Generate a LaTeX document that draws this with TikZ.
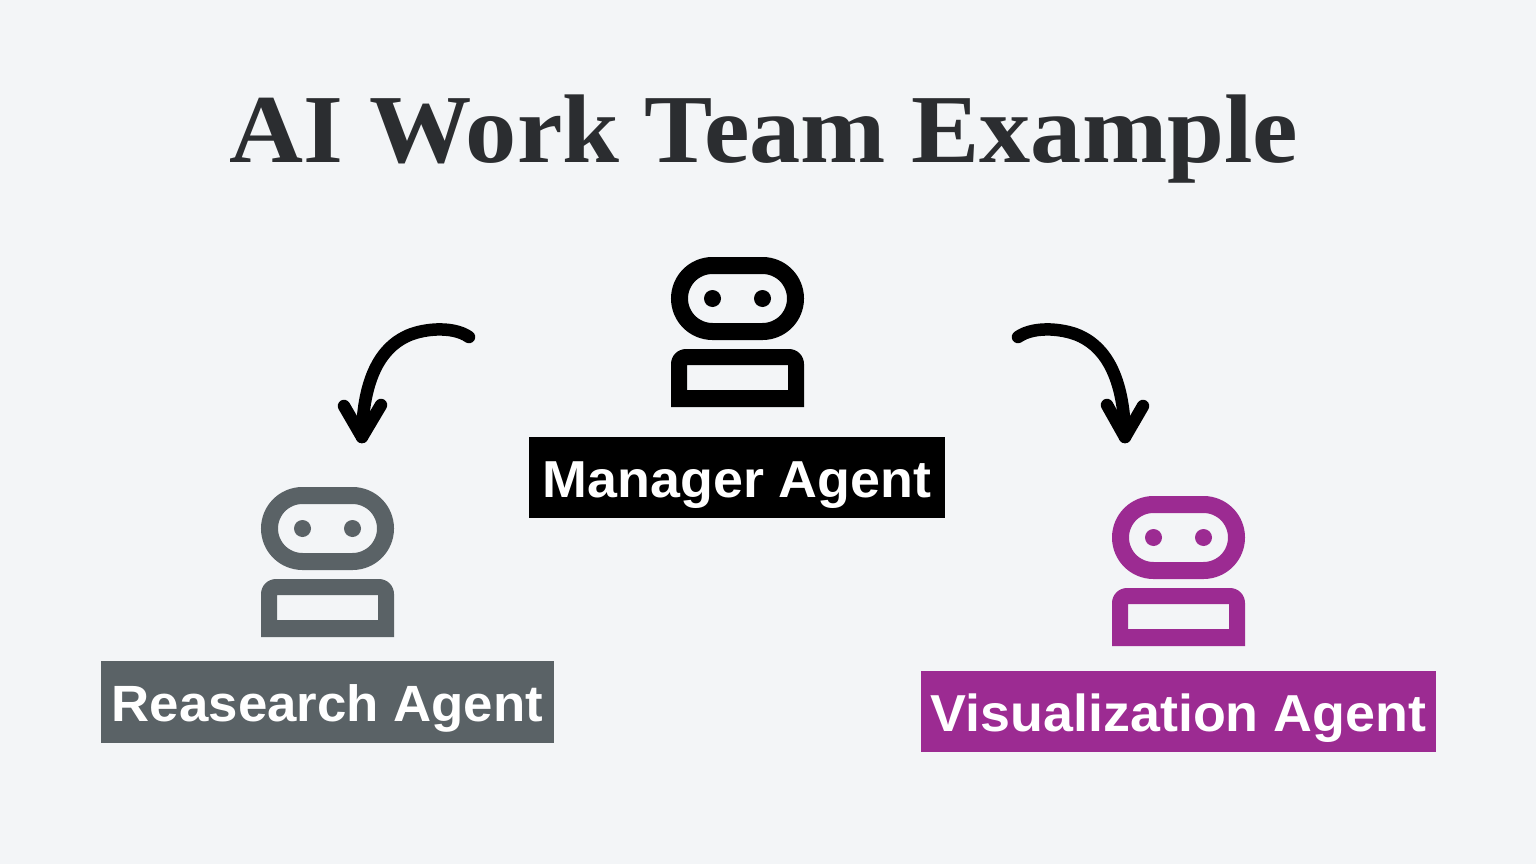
\documentclass[tikz,border=0pt]{standalone}
\usepackage{fontspec}
\newfontfamily\titlefont{Liberation Serif}[UprightFont=* Bold,BoldFont=* Bold,FakeStretch=1.05]
\newfontfamily\labelfont{Liberation Sans}[UprightFont=* Bold,BoldFont=* Bold,FakeStretch=1.035]
\definecolor{bgc}{HTML}{F3F5F7}
\definecolor{titlec}{HTML}{2B2D30}
\definecolor{greyc}{HTML}{5A6266}
\definecolor{purplec}{HTML}{9C2B92}
\tikzset{
  agentlabel/.style={fill=#1,text=white,inner sep=0pt,anchor=center,text height=60pt,text depth=21pt,font=\labelfont\fontsize{52}{52}\selectfont},
  curvearrow/.style={draw=black,line width=12.5pt,line cap=round,line join=round},
  robot/.pic={
    \draw[pic actions,line width=17pt,fill=none,rounded corners=33pt] (-58,-33) rectangle (58,33);
    \fill[pic actions] (-25,0) circle (8.5pt) (25,0) circle (8.5pt);
    \fill[pic actions,even odd rule]
      (-66.5,108.5) -- (-66.5,65.5) arc[start angle=180,end angle=90,radius=15pt] -- (51.5,50.5) arc[start angle=90,end angle=0,radius=15pt] -- (66.5,108.5) -- cycle
      (-50.5,66.5) rectangle (50.5,91.5);
  }
}
\begin{document}
\begin{tikzpicture}[x=1pt,y=-1pt]
\useasboundingbox (0,0) rectangle (1536,864);
\fill[bgc] (0,0) rectangle (1536,864);
\node[text=titlec,font=\titlefont\fontsize{97.5}{97.5}\selectfont,anchor=base] (title) at (764,162) {AI Work Team Example};
\pic[black] at (737.5,298.5) {robot};
\pic[greyc] at (327.5,528.5) {robot};
\pic[purplec] at (1178.5,537.5) {robot};
\node[agentlabel=black,minimum width=416pt] (manager) at (737,477.5) {Manager Agent};
\node[agentlabel=greyc,minimum width=453pt,text depth=22pt,font=\labelfont\fontsize{51}{51}\selectfont] (research) at (327.5,702) {Reasearch Agent};
\node[agentlabel=purplec,minimum width=515pt] (viz) at (1178.5,711.5) {Visualization Agent};
\coordinate (ls) at (469,337);
\coordinate (lt) at (362,437);
\coordinate (rs) at (1018,337);
\coordinate (rt) at (1125,437);
\draw[curvearrow] (ls) .. controls (452,325) and (420,329) .. (405,337) .. controls (383,348) and (363,375) .. (lt);
\draw[curvearrow] (344,406) -- (lt) -- (381,405);
\fill[black] (354,421) -- (370,421) -- (lt) -- cycle;
\draw[curvearrow] (rs) .. controls (1035,325) and (1067,329) .. (1082,337) .. controls (1104,348) and (1124,375) .. (rt);
\draw[curvearrow] (1107,405) -- (rt) -- (1143,406);
\fill[black] (1117,421) -- (1133,421) -- (rt) -- cycle;
\end{tikzpicture}
\end{document}
